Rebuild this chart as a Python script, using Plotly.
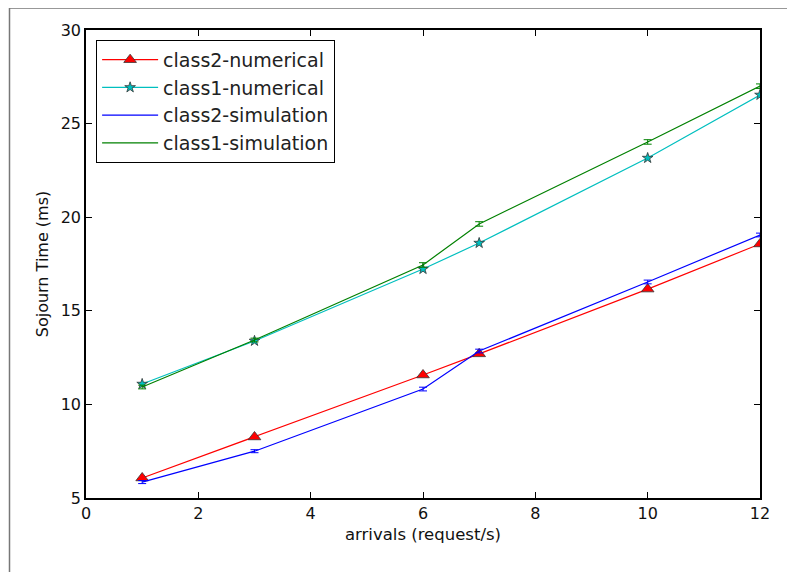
import plotly.graph_objects as go

arrivals = [1, 3, 6, 7, 10, 12]
class2_numerical = [6.07, 8.26, 11.57, 12.7, 16.16, 18.57]
class1_numerical = [11.09, 13.39, 17.23, 18.62, 23.16, 26.53]
class2_simulation = [5.85, 7.5, 10.82, 12.85, 16.54, 19.05]
class2_sim_err = [0.08, 0.08, 0.1, 0.1, 0.1, 0.1]
class1_simulation = [10.93, 13.44, 17.45, 19.64, 24.02, 27.0]
class1_sim_err = [0.1, 0.1, 0.12, 0.12, 0.12, 0.12]

x_ticks = [0, 2, 4, 6, 8, 10, 12]
y_ticks = [5, 10, 15, 20, 25, 30]

fig = go.Figure()
fig.add_trace(go.Scatter(
    x=arrivals, y=class2_numerical, name="class2-numerical", mode="lines+markers",
    line=dict(color="#ff0000", width=1.2),
    marker=dict(symbol="triangle-up", size=11, color="#ff0000", line=dict(color="#333333", width=0.8)),
))
fig.add_trace(go.Scatter(
    x=arrivals, y=class1_numerical, name="class1-numerical", mode="lines+markers",
    line=dict(color="#00bfbf", width=1.2),
    marker=dict(symbol="star", size=8, color="#00bfbf", line=dict(color="#333333", width=0.8)),
))
fig.add_trace(go.Scatter(
    x=arrivals, y=class2_simulation, name="class2-simulation", mode="lines",
    line=dict(color="#0000ff", width=1.2),
    error_y=dict(type="data", array=class2_sim_err, color="#0000ff", thickness=1, width=4),
))
fig.add_trace(go.Scatter(
    x=arrivals, y=class1_simulation, name="class1-simulation", mode="lines",
    line=dict(color="#008000", width=1.2),
    error_y=dict(type="data", array=class1_sim_err, color="#008000", thickness=1, width=4),
))

axis_common = dict(
    showgrid=False, zeroline=False, showline=True, linecolor="black", linewidth=1.5,
    mirror="ticks", ticks="inside", ticklen=6, tickcolor="black", tickwidth=1,
    tickfont=dict(family="DejaVu Sans", size=16, color="#111111"),
)

fig.update_layout(
    width=795, height=572,
    margin=dict(l=78, r=43, t=22, b=82),
    paper_bgcolor="white", plot_bgcolor="white",
    font=dict(family="DejaVu Sans", color="#111111"),
    xaxis=dict(range=[0, 12], tickvals=x_ticks, ticktext=[str(v) for v in x_ticks],
               title=dict(text="arrivals (request/s)", font=dict(size=16.5), standoff=6),
               **axis_common),
    yaxis=dict(range=[5, 30], tickvals=y_ticks, ticktext=[str(v) for v in y_ticks],
               title=dict(text="Sojourn Time (ms)", font=dict(size=16), standoff=8),
               **axis_common),
    legend=dict(
        x=0.015, y=0.979, xanchor="left", yanchor="top",
        bgcolor="white", bordercolor="black", borderwidth=1,
        font=dict(family="DejaVu Sans", size=19, color="#222222"),
        itemwidth=56, tracegroupgap=0,
    ),
    showlegend=True,
    shapes=[dict(type="rect", xref="paper", yref="paper",
                 x0=-0.1135, x1=1.08, y0=-0.25, y1=1.047,
                 line=dict(color="#777777", width=1.5), fillcolor="rgba(0,0,0,0)", layer="below")],
)

fig.write_html("out.html")
